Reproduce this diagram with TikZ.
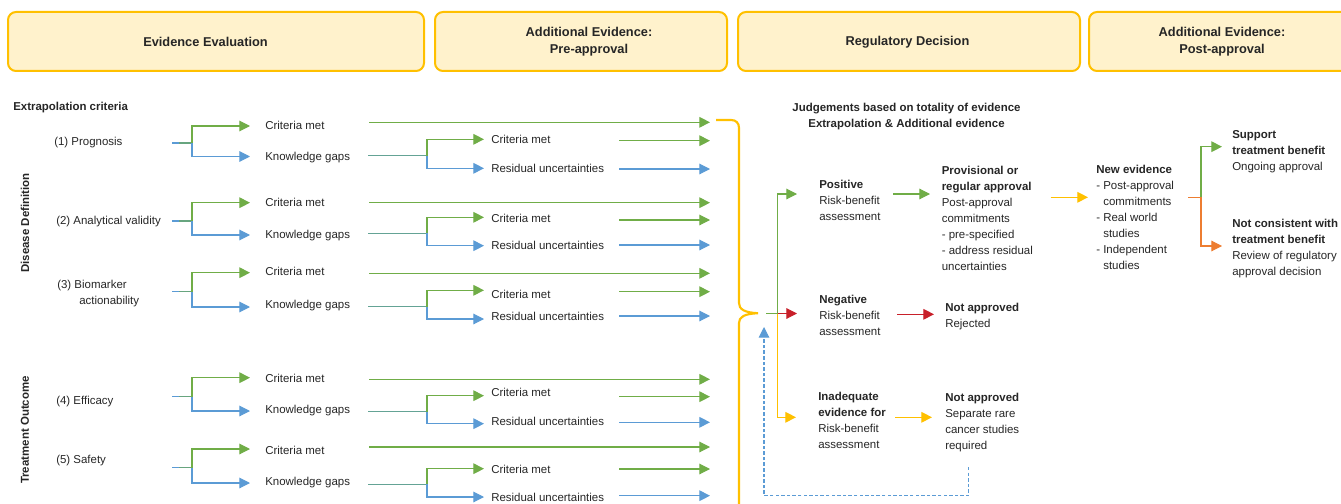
\documentclass[tikz,border=0pt]{standalone}
\usepackage{fontspec}
\setmainfont{Liberation Sans}
\usetikzlibrary{arrows.meta}
\definecolor{gG}{HTML}{70AD47}
\definecolor{gB}{HTML}{5B9BD5}
\definecolor{gY}{HTML}{FFC000}
\definecolor{gO}{HTML}{ED7D31}
\definecolor{gR}{HTML}{C8202A}
\definecolor{hdrfill}{HTML}{FFF2CC}
\definecolor{txt}{HTML}{262626}
\colorlet{gT}{gB!55!gG}
\begin{document}
\begin{tikzpicture}[x=0.75pt,y=-0.75pt,
  font=\fontsize{8.6}{12}\selectfont, text=txt,
  hdr/.style={draw=gY, fill=hdrfill, line width=1.5pt, rounded corners=6pt},
  hdrtxt/.style={font=\fontsize{9.6}{12.8}\selectfont\bfseries, align=center, inner sep=0},
  lbl/.style={inner sep=0, anchor=west, text height=6.4pt, text depth=0.8pt},
  blk/.style={inner sep=0, anchor=north west, align=left},
  bold/.style={font=\fontsize{8.6}{12}\selectfont\bfseries},
  con/.style={line width=0.8pt},
  tip/.style={-{Triangle[length=8pt,width=8pt]}}]
\useasboundingbox (0,0) rectangle (1341,503);
\clip (0,0) rectangle (1341,503);

% header boxes
\draw[hdr] (8,12) rectangle (424,71);
\draw[hdr] (435,12) rectangle (727,71);
\draw[hdr] (738,12) rectangle (1080,71);
\draw[hdr] (1089,12) rectangle (1370,71);
\node[hdrtxt] (h1) at (205.5,42) {Evidence Evaluation};
\node[hdrtxt] (h2) at (589,42) {Additional Evidence:\\Pre-approval};
\node[hdrtxt] (h3) at (907.5,42) {Regulatory Decision};
\node[hdrtxt] (h4) at (1222,42) {Additional Evidence:\\Post-approval};

% left labels
\node[bold, anchor=west, inner sep=0] (ec) at (13,108) {Extrapolation criteria};
\node[bold, rotate=90, inner sep=0] (dd) at (25,223) {Disease Definition};
\node[bold, rotate=90, inner sep=0] (to) at (25,430) {Treatment Outcome};
\node[lbl] (c1) at (54,142) {(1) Prognosis};
\node[lbl] (c2) at (56,221) {(2) Analytical validity};
\node[blk] (c3) at (57,279.5) {(3) Biomarker\\\hspace*{16.5pt}actionability};
\node[lbl] (c4) at (56,401) {(4) Efficacy};
\node[lbl] (c5) at (56,460) {(5) Safety};

% rows
\foreach \i/\sy/\ty/\by/\ly/\ky/\mt/\mb/\rg/\rb/\lc/\lk/\mc/\mr in {
  1/143/126/156.5/122.3/155.7/139.3/168.3/140.7/169/126/157/140/169,
  2/221/202.7/235/202.7/233.3/217.3/245.7/220/245/203/235/219/246,
  3/291.7/272.7/307/273.3/306.7/290.3/319/291.7/316/272/305/295/317,
  4/396.7/377.7/411/379.3/411.7/395.7/423.7/396.7/422.3/379/410/393/422,
  5/467.7/449/483/447/484.3/468.7/497/469/495.7/451/482/470/498}{
  \coordinate (s\i) at (192,\sy);
  \coordinate (s0\i) at (172,\sy);
  \draw[con,gB] (s0\i) -- (s\i);
  \draw[con,gG,opacity=.6] (179,\sy) -- (s\i);
  \draw[con,gG,tip] (s\i) |- (250,\ty);
  \draw[con,gB,tip] (s\i) |- (250,\by);
  \node[lbl] (lc\i) at (265,\lc) {Criteria met};
  \node[lbl] (lk\i) at (265,\lk) {Knowledge gaps};
  \draw[con,gG,tip] (369,\ly) -- (710,\ly);
  \coordinate (m\i) at (427,\ky);
  \draw[con,gT] (368,\ky) -- (m\i);
  \draw[con,gG,tip] (m\i) |- (484,\mt);
  \draw[con,gB,tip] (m\i) |- (484,\mb);
  \node[lbl] (mc\i) at (491,\mc) {Criteria met};
  \node[lbl] (mr\i) at (491,\mr) {Residual uncertainties};
  \draw[con,gG,tip] (619,\rg) -- (710,\rg);
  \draw[con,gB,tip] (619,\rb) -- (710,\rb);
}

% brace
\draw[gY, line width=1.6pt] (716,120) -- (731,120) .. controls (736,120) and (739,123) .. (739,128)
  -- (739,303) .. controls (739,309) and (744,312.6) .. (758,313.2)
  .. controls (744,313.8) and (739,317) .. (739,323) -- (739,530);

% decision section
\node[bold, align=center, inner sep=0] (jd) at (906.5,117) {Judgements based on totality of evidence\\Extrapolation \& Additional evidence};

\node[blk] (pos) at (819,179.5) {\textbf{Positive}\\Risk-benefit\\assessment};
\node[blk] (neg) at (819,294.8) {\textbf{Negative}\\Risk-benefit\\assessment};
\node[blk] (ina) at (818,392.2) {\textbf{Inadequate}\\\textbf{evidence for}\\Risk-benefit\\assessment};
\node[blk] (prov) at (941.5,165.5) {\textbf{Provisional or}\\\textbf{regular approval}\\Post-approval\\commitments\\- pre-specified\\- address residual\\uncertainties};
\node[blk] (na1) at (945,302.8) {\textbf{Not approved}\\Rejected};
\node[blk] (na2) at (945,392.8) {\textbf{Not approved}\\Separate rare\\cancer studies\\required};
\node[blk] (ne) at (1096,164.8) {\textbf{New evidence}\\- Post-approval\\\phantom{- }commitments\\- Real world\\\phantom{- }studies\\- Independent\\\phantom{- }studies};
\node[blk] (sup) at (1232,129.8) {\textbf{Support}\\\textbf{treatment benefit}\\Ongoing approval};
\node[blk] (nc) at (1232,218.8) {\textbf{Not consistent with}\\\textbf{treatment benefit}\\Review of regulatory\\approval decision};

\coordinate (J0) at (766,313.5);
\coordinate (J) at (777.5,313.5);
\draw[con,gG] (J0) -- (J);
\draw[con,gG,tip] (J) |- (797,194);
\draw[con,gY,tip] (J) |- (796,417.3);
\draw[con,gR,tip] (J) -- (797,313.5);

\draw[con,gG,tip] (893,194) -- (930,194);
\draw[con,gR,tip] (897,314.3) -- (934,314.3);
\draw[con,gY,tip] (895,417.3) -- (932,417.3);
\draw[con,gY,tip] (1050.7,197.3) -- (1088,197.3);

\coordinate (K) at (1201,197.3);
\draw[con,gO] (1188,197.3) -- (K);
\draw[con,gG,tip] (K) |- (1222,146.7);
\draw[con,gO,tip] (K) |- (1222,246);

\coordinate (d0) at (968.7,467);
\draw[con,gB,dash pattern=on 2.6pt off 1.6pt,tip] (d0) |- (764,495.7) -- (764,327);
\end{tikzpicture}
\end{document}
